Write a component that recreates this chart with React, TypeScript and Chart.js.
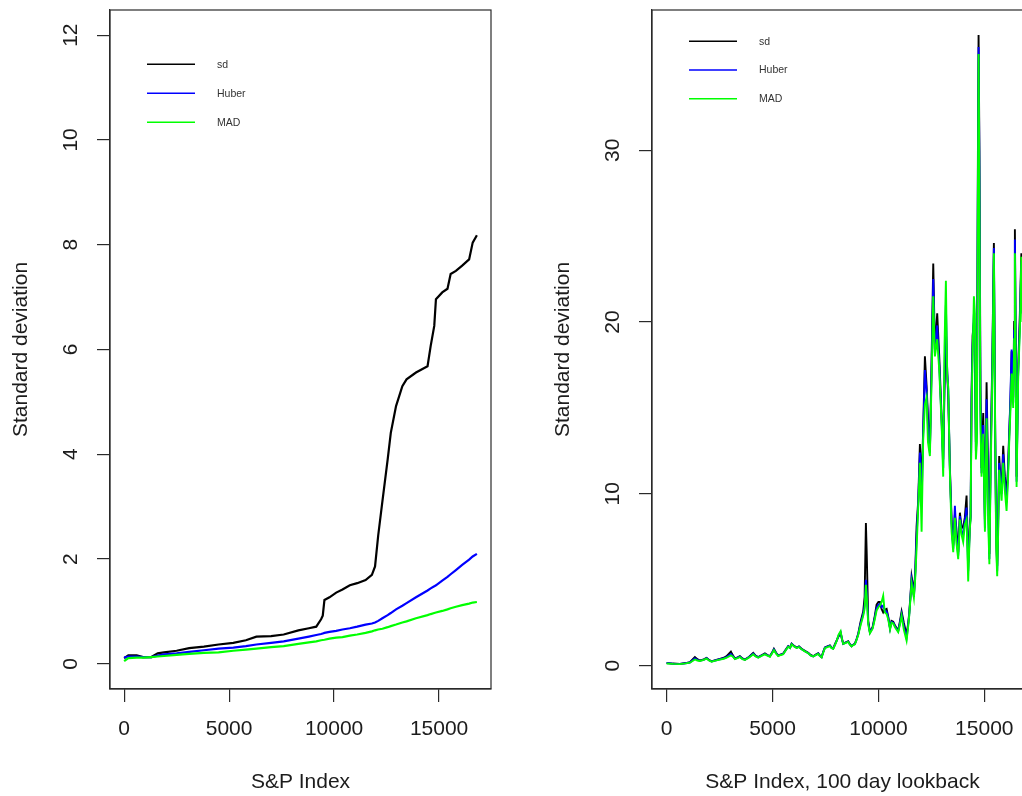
import React, { useEffect, useRef } from "react";
import { Chart, registerables } from "chart.js";

Chart.register(...registerables);

const FONT = '"Liberation Sans", Arial, Helvetica, sans-serif';
const TEXT = "#1c1c1c";
const AXIS = "#2a2a2a";

// Expanding-window scale estimates of the S&P index
const fullIndex = [
  0, 200, 600, 900, 1300, 1600, 1900, 2500, 3100, 3800,
  4500, 5200, 5800, 6300, 7000, 7600, 8300, 8800, 9150, 9380,
  9460, 9540, 9780, 10100, 10400, 10750, 11100, 11500, 11800, 11950,
  12100, 12300, 12550, 12700, 12950, 13250, 13450, 13900, 14450, 14600,
  14770, 14850, 15150, 15400, 15550, 15800, 16100, 16430, 16600, 16800,
];
const fullSd = [
  0.11, 0.16, 0.16, 0.13, 0.13, 0.2, 0.22, 0.25, 0.3, 0.33,
  0.37, 0.4, 0.45, 0.52, 0.53, 0.56, 0.64, 0.68, 0.71, 0.85,
  0.92, 1.22, 1.27, 1.36, 1.42, 1.5, 1.54, 1.6, 1.7, 1.86,
  2.45, 3.1, 3.9, 4.41, 4.92, 5.3, 5.43, 5.56, 5.68, 6.07,
  6.45, 6.96, 7.09, 7.16, 7.44, 7.5, 7.6, 7.72, 8.04, 8.18,
];
const fullHuber = [
  0.12, 0.14, 0.14, 0.13, 0.13, 0.16, 0.18, 0.2, 0.23, 0.26,
  0.29, 0.31, 0.34, 0.37, 0.4, 0.43, 0.48, 0.52, 0.55, 0.57,
  0.58, 0.59, 0.61, 0.63, 0.655, 0.68, 0.71, 0.75, 0.77, 0.79,
  0.82, 0.87, 0.93, 0.97, 1.04, 1.11, 1.16, 1.27, 1.4, 1.44,
  1.48, 1.5, 1.59, 1.66, 1.71, 1.79, 1.89, 1.99, 2.05, 2.1,
];
const fullMad = [
  0.05, 0.11, 0.12, 0.12, 0.13, 0.14, 0.15, 0.17, 0.19, 0.21,
  0.22, 0.25, 0.27, 0.29, 0.32, 0.34, 0.38, 0.41, 0.43, 0.45,
  0.455, 0.46, 0.48, 0.5, 0.51, 0.54, 0.56, 0.59, 0.62, 0.64,
  0.655, 0.67, 0.7, 0.72, 0.75, 0.79, 0.81, 0.87, 0.93, 0.95,
  0.97, 0.98, 1.01, 1.04, 1.06, 1.09, 1.12, 1.15, 1.17, 1.18,
];

// 100-day rolling scale estimates
const rollIndex = [
  0, 300, 630, 900, 1100, 1336, 1450, 1572, 1750, 1888,
  2000, 2125, 2300, 2516, 2700, 2833, 3036, 3130, 3225, 3350,
  3460, 3580, 3697, 3900, 4090, 4200, 4326, 4500, 4641, 4760,
  4877, 4980, 5066, 5170, 5270, 5400, 5505, 5620, 5741, 5830,
  5902, 6020, 6138, 6250, 6374, 6530, 6686, 6800, 6922, 7040,
  7158, 7240, 7318, 7400, 7474, 7590, 7710, 7790, 7866, 7950,
  8026, 8120, 8215, 8280, 8340, 8460, 8575, 8655, 8735, 8810,
  8890, 8970, 9047, 9160, 9283, 9350, 9410, 9450, 9520, 9600,
  9727, 9830, 9915, 10000, 10070, 10150, 10227, 10300, 10387, 10463,
  10550, 10620, 10700, 10800, 10935, 11020, 11095, 11200, 11330, 11400,
  11455, 11520, 11567, 11620, 11676, 11740, 11803, 11880, 11960, 12040,
  12116, 12196, 12275, 12340, 12432, 12500, 12590, 12668, 12777, 12873,
  12983, 13060, 13120, 13187, 13250, 13300, 13376, 13456, 13533, 13612,
  13680, 13768, 13848, 13930, 14004, 14080, 14163, 14240, 14320, 14353,
  14400, 14447, 14510, 14556, 14603, 14650, 14700, 14730, 14770, 14820,
  14870, 14950, 15030, 15108, 15184, 15240, 15298, 15380, 15453, 15515,
  15560, 15609, 15660, 15703, 15760, 15817, 15893, 15970, 16052, 16120,
  16177, 16240, 16290, 16365, 16410, 16445, 16490, 16525, 16600, 16680,
  16750, 16800,
];
const rollSd = [
  0.16, 0.12, 0.1, 0.15, 0.2, 0.5, 0.38, 0.3, 0.36, 0.45,
  0.33, 0.25, 0.32, 0.39, 0.46, 0.55, 0.82, 0.6, 0.42, 0.48,
  0.55, 0.42, 0.35, 0.52, 0.74, 0.58, 0.5, 0.62, 0.72, 0.62,
  0.55, 0.76, 0.98, 0.75, 0.6, 0.66, 0.7, 0.92, 1.14, 1.05,
  1.28, 1.15, 1.05, 1.12, 0.98, 0.86, 0.75, 0.62, 0.55, 0.64,
  0.72, 0.58, 0.5, 0.82, 1.06, 1.12, 1.18, 1.05, 1.0, 1.25,
  1.46, 1.7, 1.9, 1.55, 1.28, 1.35, 1.42, 1.25, 1.14, 1.22,
  1.28, 1.55, 1.86, 2.55, 3.15, 4.0, 8.3, 6.5, 2.6, 1.95,
  2.25, 2.9, 3.55, 3.7, 3.7, 3.3, 3.1, 3.25, 3.3, 2.85,
  2.2, 2.6, 2.55, 2.3, 2.05, 2.6, 3.15, 2.5, 1.8, 2.4,
  3.05, 4.2, 5.2, 4.8, 4.1, 5.5, 8.1, 9.6, 12.9, 10.5,
  13.8, 18.0, 16.3, 14.5, 12.5, 17.0, 23.4, 18.4, 20.5, 18.0,
  14.5, 12.0, 16.0, 19.5, 17.1, 15.5, 11.5, 8.5, 7.0, 8.8,
  8.0, 6.6, 8.9, 8.0, 8.1, 8.6, 9.9, 6.0, 8.2, 8.7,
  16.0, 19.2, 20.0, 19.0, 13.0, 14.0, 30.0, 36.7, 30.0, 16.0,
  11.5, 14.7, 8.5, 16.5, 10.9, 6.5, 12.0, 18.0, 24.6, 13.6,
  8.0, 5.8, 9.0, 12.2, 11.0, 10.3, 12.8, 11.0, 9.9, 11.5,
  13.6, 15.5, 18.3, 15.6, 20.0, 25.4, 18.0, 11.0, 17.3, 20.5,
  24.0, 21.0,
];
const rollHuber = [
  0.15, 0.11, 0.1, 0.14, 0.18, 0.42, 0.34, 0.28, 0.34, 0.43,
  0.31, 0.24, 0.3, 0.37, 0.43, 0.5, 0.68, 0.55, 0.4, 0.46,
  0.52, 0.4, 0.34, 0.5, 0.7, 0.56, 0.48, 0.6, 0.68, 0.6,
  0.54, 0.74, 0.94, 0.72, 0.58, 0.64, 0.68, 0.9, 1.12, 1.03,
  1.26, 1.13, 1.04, 1.1, 0.96, 0.84, 0.73, 0.6, 0.54, 0.62,
  0.7, 0.56, 0.5, 0.8, 1.04, 1.1, 1.16, 1.03, 0.99, 1.22,
  1.44, 1.75, 1.95, 1.55, 1.27, 1.34, 1.4, 1.23, 1.13, 1.21,
  1.26, 1.52, 1.82, 2.45, 3.0, 3.5, 5.0, 4.3, 2.5, 1.92,
  2.2, 2.8, 3.35, 3.55, 3.6, 3.4, 3.5, 3.2, 3.15, 2.8,
  2.15, 2.55, 2.5, 2.25, 2.0, 2.5, 3.0, 2.3, 1.6, 2.3,
  2.95, 4.1, 5.0, 4.6, 4.0, 5.3, 7.5, 9.4, 12.4, 9.5,
  13.5, 17.2, 16.0, 14.0, 12.4, 16.5, 22.5, 18.2, 19.8, 17.5,
  14.3, 11.5, 17.0, 21.0, 17.0, 16.0, 11.4, 8.2, 6.8, 9.3,
  7.6, 6.4, 8.7, 7.8, 7.6, 8.4, 9.2, 5.5, 8.1, 8.6,
  15.5, 18.5, 20.5, 19.5, 12.5, 13.5, 29.0, 36.0, 29.0, 15.0,
  11.2, 14.0, 8.0, 15.5, 9.5, 6.2, 11.5, 17.5, 24.3, 13.4,
  7.5, 5.5, 8.5, 11.8, 10.8, 10.0, 12.3, 10.6, 9.5, 11.2,
  13.3, 16.0, 18.4, 15.3, 19.5, 24.8, 17.0, 10.7, 17.0, 20.0,
  23.5, 20.5,
];
const rollMad = [
  0.12, 0.1, 0.09, 0.13, 0.17, 0.36, 0.3, 0.27, 0.33, 0.41,
  0.3, 0.23, 0.29, 0.35, 0.4, 0.46, 0.6, 0.52, 0.38, 0.44,
  0.5, 0.38, 0.33, 0.48, 0.66, 0.54, 0.46, 0.58, 0.66, 0.58,
  0.52, 0.72, 0.9, 0.7, 0.56, 0.62, 0.66, 0.88, 1.1, 1.02,
  1.24, 1.12, 1.03, 1.08, 0.95, 0.83, 0.72, 0.59, 0.53, 0.61,
  0.68, 0.55, 0.48, 0.78, 1.02, 1.08, 1.14, 1.02, 0.98, 1.2,
  1.42, 1.8, 2.0, 1.55, 1.26, 1.33, 1.38, 1.22, 1.12, 1.2,
  1.24, 1.5, 1.78, 2.35, 2.9, 3.3, 4.7, 4.0, 2.4, 1.88,
  2.15, 2.7, 3.2, 3.4, 3.5, 3.7, 4.07, 3.1, 3.0, 2.7,
  2.1, 2.5, 2.45, 2.2, 1.95, 2.4, 2.9, 2.1, 1.45, 2.2,
  2.9, 4.0, 4.8, 4.4, 3.95, 5.1, 6.8, 9.2, 11.8, 7.8,
  13.2, 15.2, 15.6, 13.0, 12.2, 16.0, 21.5, 18.0, 19.0, 17.2,
  14.1, 11.0, 18.5, 22.4, 16.8, 16.2, 11.2, 7.8, 6.6, 8.6,
  7.2, 6.2, 8.5, 7.6, 7.2, 8.2, 8.5, 4.9, 8.0, 8.5,
  15.0, 18.0, 21.5, 20.5, 12.0, 13.0, 27.9, 35.6, 27.5, 14.0,
  11.0, 13.5, 7.8, 14.4, 8.4, 5.9, 11.0, 17.0, 24.0, 13.2,
  7.0, 5.2, 8.0, 11.4, 10.5, 9.6, 11.8, 10.2, 9.0, 10.8,
  13.0, 15.0, 17.0, 15.0, 19.0, 24.0, 16.0, 10.4, 16.8, 19.5,
  23.8, 20.0,
];

const xTicks = [0, 5000, 10000, 15000];
const fullYTicks = [0, 2, 4, 6, 8, 10, 12];
const rollYTicks = [0, 10, 20, 30];

const seriesLabels = ["sd", "Huber", "MAD"];
const seriesColors = ["#000000", "#0000ff", "#00ff00"];

const PANEL_W = 511;
const PANEL_H = 796;

// plot frame drawn on all four sides of the plotting region
const framePlugin = {
  id: "plotFrame",
  afterDatasetsDraw(chart: any) {
    const { ctx, chartArea } = chart;
    ctx.save();
    ctx.strokeStyle = AXIS;
    ctx.lineWidth = 1.2;
    ctx.strokeRect(
      chartArea.left,
      chartArea.top,
      chartArea.right - chartArea.left,
      chartArea.bottom - chartArea.top
    );
    ctx.restore();
  },
};

// borderless key in the upper-left corner of the plot
function keyPlugin(firstRow: number, rowGap: number) {
  return {
    id: "seriesKey",
    afterDraw(chart: any) {
      const { ctx, chartArea } = chart;
      ctx.save();
      ctx.font = `10.5px ${FONT}`;
      ctx.textBaseline = "middle";
      ctx.textAlign = "left";
      chart.data.datasets.forEach((ds: any, i: number) => {
        const y = chartArea.top + firstRow + i * rowGap;
        ctx.strokeStyle = ds.borderColor;
        ctx.lineWidth = 1.6;
        ctx.beginPath();
        ctx.moveTo(chartArea.left + 37, y);
        ctx.lineTo(chartArea.left + 85, y);
        ctx.stroke();
        ctx.fillStyle = "#333";
        ctx.fillText(ds.label, chartArea.left + 107, y + 0.5);
      });
      ctx.restore();
    },
  };
}

type PanelProps = {
  left: number;
  index: number[];
  series: number[][];
  xMin: number;
  xMax: number;
  yMin: number;
  yMax: number;
  yTicks: number[];
  xTitle: string;
  keyTop: number;
  keyGap: number;
  lineWidth: number;
};

function Panel(p: PanelProps) {
  const ref = useRef<HTMLCanvasElement | null>(null);

  useEffect(() => {
    if (!ref.current) return;
    const tickFont = { family: FONT, size: 21 };
    const chart = new Chart(ref.current, {
      type: "line",
      data: {
        datasets: p.series.map((vals, i) => ({
          label: seriesLabels[i],
          data: p.index.map((x, j) => ({ x, y: vals[j] })),
          borderColor: seriesColors[i],
          backgroundColor: seriesColors[i],
          borderWidth: p.lineWidth,
          pointRadius: 0,
          tension: 0,
          fill: false,
          order: 3 - i,
        })),
      },
      options: {
        animation: false,
        responsive: false,
        events: [],
        layout: { padding: { top: 10, right: 20, left: 0, bottom: 0 } },
        plugins: {
          legend: { display: false },
          tooltip: { enabled: false },
        },
        scales: {
          x: {
            type: "linear",
            position: "bottom",
            min: p.xMin,
            max: p.xMax,
            afterBuildTicks: (s: any) => {
              s.ticks = xTicks.map((v) => ({ value: v }));
            },
            afterFit: (s: any) => {
              s.height = 107;
              s.paddingLeft = 0;
              s.paddingRight = 0;
            },
            grid: {
              drawOnChartArea: false,
              drawTicks: true,
              tickLength: 13,
              color: AXIS,
              lineWidth: 1.2,
            },
            border: { display: true, color: AXIS, width: 1.2 },
            ticks: {
              font: tickFont,
              color: TEXT,
              padding: 15,
              maxRotation: 0,
              autoSkip: false,
              callback: (v: any) => String(v),
            },
            title: {
              display: true,
              text: p.xTitle,
              font: tickFont,
              color: TEXT,
              padding: { top: 0, bottom: 1 },
            },
          },
          y: {
            type: "linear",
            position: "left",
            min: p.yMin,
            max: p.yMax,
            afterBuildTicks: (s: any) => {
              s.ticks = p.yTicks.map((v) => ({ value: v }));
            },
            afterFit: (s: any) => {
              s.width = 110;
              s.paddingTop = 0;
              s.paddingBottom = 0;
            },
            grid: {
              drawOnChartArea: false,
              drawTicks: true,
              tickLength: 13,
              color: AXIS,
              lineWidth: 1.2,
            },
            border: { display: true, color: AXIS, width: 1.2 },
            ticks: {
              font: tickFont,
              color: TEXT,
              padding: 14,
              minRotation: 90,
              maxRotation: 90,
              crossAlign: "center",
              autoSkip: false,
              callback: (v: any) => String(v),
            },
            title: {
              display: true,
              text: "Standard deviation",
              font: tickFont,
              color: TEXT,
              padding: { top: 9, bottom: 0 },
            },
          },
        },
      } as any,
      plugins: [framePlugin, keyPlugin(p.keyTop, p.keyGap)],
    });
    return () => chart.destroy();
  }, []);

  return (
    <canvas
      ref={ref}
      width={PANEL_W}
      height={PANEL_H}
      style={{
        position: "absolute",
        left: p.left,
        top: 0,
        width: PANEL_W,
        height: PANEL_H,
      }}
    />
  );
}

export default function App() {
  return (
    <div
      style={{
        position: "absolute",
        left: 0,
        top: 0,
        width: 1022,
        height: 796,
        overflow: "hidden",
        background: "#ffffff",
      }}
    >
      <Panel
        left={0}
        index={fullIndex}
        series={[fullSd, fullHuber, fullMad]}
        xMin={-672}
        xMax={17472}
        yMin={-0.48}
        yMax={12.48}
        yTicks={fullYTicks}
        xTitle="S&P Index"
        keyTop={54.3}
        keyGap={29}
        lineWidth={2.2}
      />
      <Panel
        left={542}
        index={rollIndex}
        series={[rollSd, rollHuber, rollMad]}
        xMin={-690}
        xMax={17300}
        yMin={-1.36}
        yMax={38.16}
        yTicks={rollYTicks}
        xTitle="S&P Index, 100 day lookback"
        keyTop={31.3}
        keyGap={28.7}
        lineWidth={1.9}
      />
    </div>
  );
}
